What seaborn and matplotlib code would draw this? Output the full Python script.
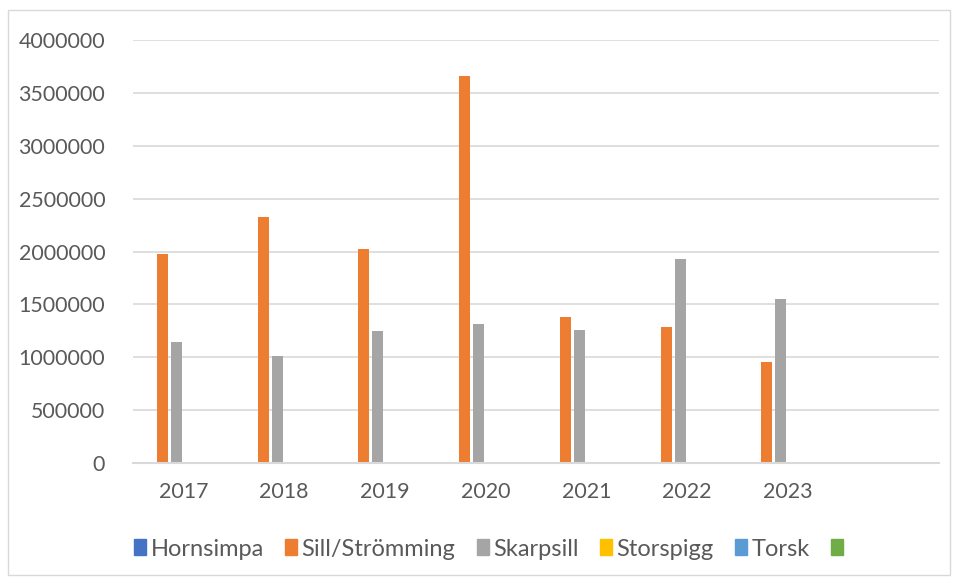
import matplotlib
matplotlib.use("Agg")
import matplotlib.pyplot as plt
import matplotlib.patches as mpatches
import seaborn as sns
import pandas as pd
import numpy as np

years = ["2017", "2018", "2019", "2020", "2021", "2022", "2023", ""]
series = ["Hornsimpa", "Sill/Strömming", "Skarpsill", "Storspigg", "Torsk", " "]
hornsimpa = [0, 0, 0, 10000, 0, 0, 0, np.nan]
sill = [1980000, 2325000, 2020000, 3655000, 1383000, 1288000, 955000, np.nan]
skarpsill = [1140000, 1012000, 1250000, 1310000, 1253000, 1933000, 1552000, np.nan]
storspigg = [0, 0, 0, 0, 0, 0, 0, np.nan]
torsk = [0, 0, 0, 0, 0, 0, 0, np.nan]
blank = [0, 0, 0, 0, 0, 0, 0, np.nan]
colors = ["#4472C4", "#ED7D31", "#A5A5A5", "#FFC000", "#5B9BD5", "#70AD47"]

values = [hornsimpa, sill, skarpsill, storspigg, torsk, blank]
rows = []
for s, vals in zip(series, values):
    for y, v in zip(years, vals):
        rows.append({"year": y, "species": s, "value": v})
df = pd.DataFrame(rows)

sns.set_theme(style="white")
plt.rcParams["font.family"] = ["Lato", "DejaVu Sans"]

fig = plt.figure(figsize=(9.57, 5.81), dpi=100)
ax = fig.add_axes([133 / 957, 1 - 463 / 581, (939 - 133) / 957, (463 - 40) / 581])

sns.barplot(data=df, x="year", y="value", hue="species", order=years,
            hue_order=series, palette=colors, saturation=1, width=0.834, gap=0.2,
            linewidth=0, ax=ax, legend=False, errorbar=None)

ax.set_ylim(0, 4000000)
ax.set_xlim(-0.5, len(years) - 0.5)
ax.set_yticks(np.arange(0, 4000001, 500000))
ax.set_yticklabels([str(v) for v in range(0, 4000001, 500000)])
ax.yaxis.grid(True, color="#d9d9d9", linewidth=1.2)
ax.set_axisbelow(True)
for sp in ["top", "right", "left"]:
    ax.spines[sp].set_visible(False)
ax.spines["bottom"].set_color("#d9d9d9")
ax.spines["bottom"].set_linewidth(1.5)
ax.tick_params(axis="both", length=0, labelsize=15.4, colors="#595959")
ax.tick_params(axis="y", pad=20)
ax.tick_params(axis="x", pad=14)
ax.set_xlabel("")
ax.set_ylabel("")

handles = [mpatches.Patch(color=c, label=s) for c, s in zip(colors, series)]
fig.legend(handles=handles, loc="center", bbox_to_anchor=(0.516, 1 - 549 / 581),
           ncol=6, frameon=False, fontsize=17, handlelength=0.5, handleheight=0.65,
           handletextpad=0.2, columnspacing=0.9, labelcolor="#595959")

border = mpatches.Rectangle((8 / 957, 6 / 581), (950 - 8) / 957, (575 - 10) / 581,
                            transform=fig.transFigure, fill=False,
                            edgecolor="#d9d9d9", linewidth=1.0)
fig.patches.append(border)

fig.savefig("out.png", dpi=100)
